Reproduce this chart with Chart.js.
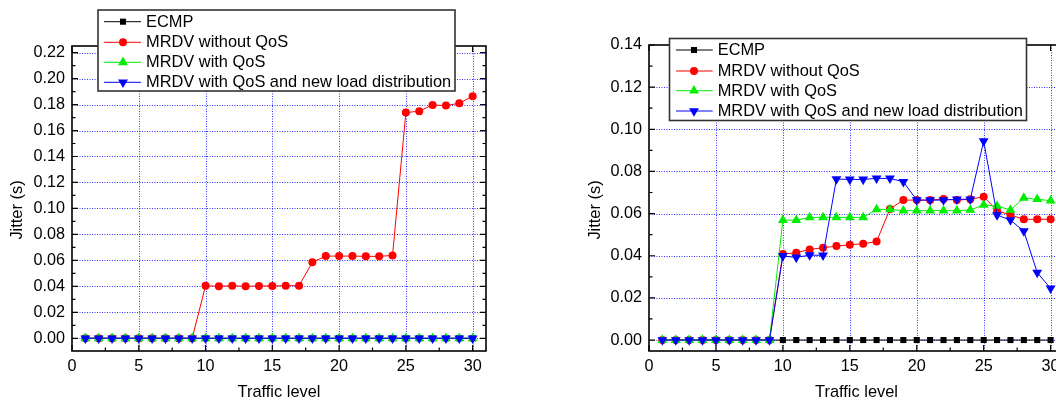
<!DOCTYPE html>
<html>
<head>
<meta charset="utf-8">
<script src="https://cdn.jsdelivr.net/npm/chart.js@4.4.0/dist/chart.umd.min.js"></script>
<style>
html,body{margin:0;padding:0;background:#fff;overflow:hidden;}
#wrap{position:relative;width:1056px;height:402px;overflow:hidden;background:#fff;}
#c1{position:absolute;left:0;top:0;}
#c2{position:absolute;left:528px;top:0;}
</style>
</head>
<body>
<div id="wrap">
<canvas id="c1" width="528" height="402"></canvas>
<canvas id="c2" width="550" height="402"></canvas>
</div>
<script>
// ---------------- data ----------------
const seriesNames = ['ECMP', 'MRDV without QoS', 'MRDV with QoS', 'MRDV with QoS and new load distribution'];
const traffic = [1,2,3,4,5,6,7,8,9,10,11,12,13,14,15,16,17,18,19,20,21,22,23,24,25,26,27,28,29,30];

// left chart
const leftEcmp    = [0,0,0,0,0,0,0,0,0,0,0,0,0,0,0,0,0,0,0,0,0,0,0,0,0,0,0,0,0,0];
const leftNoQos   = [0,0,0,0,0,0,0,0,0,0.0405,0.0400,0.0405,0.0400,0.0403,0.0403,0.0405,0.0405,0.0585,0.0633,0.0633,0.0633,0.0631,0.0631,0.0638,0.1738,0.1749,0.1797,0.1792,0.1810,0.1864];
const leftQos     = [0,0,0,0,0,0,0,0,0,0,0,0,0,0,0,0,0,0,0,0,0,0,0,0,0,0,0,0,0,0];
const leftQosLoad = [0,0,0,0,0,0,0,0,0,0,0,0,0,0,0,0,0,0,0,0,0,0,0,0,0,0,0,0,0,0];

// right chart
const rightEcmp    = [0,0,0,0,0,0,0,0,0,0,0,0,0,0,0,0,0,0,0,0,0,0,0,0,0,0,0,0,0,0];
const rightNoQos   = [0,0,0,0,0,0,0,0,0,0.0408,0.0414,0.0430,0.0438,0.0446,0.0452,0.0457,0.0467,0.0622,0.0664,0.0664,0.0664,0.0669,0.0664,0.0668,0.0680,0.0614,0.0593,0.0573,0.0573,0.0573];
const rightQos     = [0,0,0,0,0,0,0,0,0,0.0569,0.0569,0.0582,0.0582,0.0582,0.0582,0.0582,0.0620,0.0620,0.0614,0.0614,0.0614,0.0614,0.0614,0.0617,0.0641,0.0636,0.0617,0.0674,0.0668,0.0661];
const rightQosLoad = [0,0,0,0,0,0,0,0,0,0.0399,0.0392,0.0403,0.0402,0.0764,0.0762,0.0762,0.0767,0.0767,0.0751,0.0664,0.0664,0.0664,0.0668,0.0668,0.0944,0.0593,0.0569,0.0517,0.0320,0.0245];

// ticks
const xTicks = [0,5,10,15,20,25,30];
const xMinor = [2.5,7.5,12.5,17.5,22.5,27.5];
const leftYTicks = [0,0.02,0.04,0.06,0.08,0.10,0.12,0.14,0.16,0.18,0.20,0.22];
const leftYMinor = [0.01,0.03,0.05,0.07,0.09,0.11,0.13,0.15,0.17,0.19,0.21];
const rightYTicks = [0,0.02,0.04,0.06,0.08,0.10,0.12,0.14];
const rightYMinor = [0.01,0.03,0.05,0.07,0.09,0.11,0.13];

const xTitle = 'Traffic level';
const yTitle = 'Jitter (s)';

// ---------------- styles ----------------
const FONT = '"Liberation Sans", Arial, Helvetica, sans-serif';
Chart.defaults.font.family = FONT;
Chart.defaults.font.size = 16;
Chart.defaults.color = '#000';

const styles = [
  {color:'#000000', pointStyle:'rect', radius:4.3, rotation:0, order:4},
  {color:'#ff0000', pointStyle:'circle', radius:4.0, rotation:0, order:3},
  {color:'#00ee00', pointStyle:'triangle', radius:5.7, rotation:0, order:2},
  {color:'#0000ff', pointStyle:'triangle', radius:5.7, rotation:180, order:1}
];

function makeDatasets(arrs){
  return arrs.map((arr, i) => ({
    label: seriesNames[i],
    data: traffic.map((t, k) => ({x: t, y: arr[k]})),
    borderColor: styles[i].color,
    backgroundColor: styles[i].color,
    pointBackgroundColor: styles[i].color,
    pointBorderWidth: 0,
    borderWidth: 1,
    pointStyle: styles[i].pointStyle,
    pointRadius: styles[i].radius,
    pointRotation: styles[i].rotation,
    order: styles[i].order,
    tension: 0,
    clip: 8
  }));
}

const framePlugin = {
  id: 'frame',
  beforeDatasetsDraw(chart, args, o){
    const {ctx, chartArea:a, scales:{x, y}} = chart;
    ctx.save();
    ctx.strokeStyle = 'rgba(0,0,255,0.8)';
    ctx.lineWidth = 1;
    ctx.setLineDash([1,1.5]);
    ctx.beginPath();
    x.ticks.forEach(t => {
      const p = Math.round(x.getPixelForValue(t.value)) + 0.5;
      if (p > a.left + 2 && p < a.right - 2){ ctx.moveTo(p, a.top); ctx.lineTo(p, a.bottom); }
    });
    y.ticks.forEach(t => {
      const p = Math.round(y.getPixelForValue(t.value)) + 0.5;
      if (p > a.top + 2 && p < a.bottom - 2){ ctx.moveTo(a.left, p); ctx.lineTo(a.right, p); }
    });
    ctx.stroke();
    ctx.restore();
  },
  afterDatasetsDraw(chart, args, o){
    const {ctx, chartArea:a, scales:{x, y}} = chart;
    ctx.save();
    ctx.setLineDash([]);
    ctx.strokeStyle = '#000';
    ctx.lineWidth = 1.6;
    ctx.strokeRect(a.left, a.top, a.right - a.left, a.bottom - a.top);
    ctx.lineWidth = 1.2;
    ctx.beginPath();
    const tv = (p, len) => { ctx.moveTo(p, a.bottom); ctx.lineTo(p, a.bottom - len); ctx.moveTo(p, a.top); ctx.lineTo(p, a.top + len); };
    const th = (p, len) => { ctx.moveTo(a.left, p); ctx.lineTo(a.left + len, p); ctx.moveTo(a.right, p); ctx.lineTo(a.right - len, p); };
    x.ticks.forEach(t => tv(x.getPixelForValue(t.value), 6));
    o.minorX.forEach(v => tv(x.getPixelForValue(v), 3.5));
    y.ticks.forEach(t => th(y.getPixelForValue(t.value), 6));
    o.minorY.forEach(v => th(y.getPixelForValue(v), 3.5));
    ctx.stroke();
    // y axis title
    ctx.save();
    ctx.translate(o.yTitleX, o.yTitleY);
    ctx.rotate(-Math.PI / 2);
    ctx.fillStyle = '#000';
    ctx.font = '16.4px ' + FONT;
    ctx.textAlign = 'center';
    ctx.textBaseline = 'middle';
    ctx.fillText(yTitle, 0, 0);
    ctx.restore();
    ctx.restore();
  },
  afterDraw(chart, args, o){
    const L = o.legend;
    const ctx = chart.ctx;
    ctx.save();
    ctx.fillStyle = '#fff';
    ctx.fillRect(L.x, L.y, L.w, L.h);
    ctx.strokeStyle = '#333';
    ctx.lineWidth = 1.6;
    ctx.strokeRect(L.x, L.y, L.w, L.h);
    chart.data.datasets.forEach((ds, i) => {
      const cy = L.rows[i];
      ctx.strokeStyle = ds.borderColor;
      ctx.lineWidth = 1;
      ctx.beginPath();
      ctx.moveTo(L.lx0, cy); ctx.lineTo(L.lx1, cy);
      ctx.stroke();
      ctx.fillStyle = ds.pointBackgroundColor;
      Chart.helpers.drawPoint(ctx, {pointStyle: ds.pointStyle, rotation: ds.pointRotation, radius: ds.pointRadius, borderWidth: 0}, L.mx, cy);
      ctx.fillStyle = '#000';
      ctx.font = '16.4px ' + FONT;
      ctx.textAlign = 'left';
      ctx.textBaseline = 'middle';
      ctx.fillText(ds.label, L.tx, cy + 0.5);
    });
    ctx.restore();
  }
};

function makeChart(id, arrs, cfg){
  return new Chart(document.getElementById(id), {
    type: 'line',
    data: {datasets: makeDatasets(arrs)},
    options: {
      responsive: false,
      animation: false,
      events: [],
      layout: {padding: cfg.padding},
      plugins: {
        legend: {display: false},
        tooltip: {enabled: false},
        frame: {minorX: xMinor, minorY: cfg.minorY, legend: cfg.legend, yTitleX: cfg.yTitleX, yTitleY: 210}
      },
      scales: {
        x: {
          type: 'linear', min: 0, max: 31,
          afterBuildTicks: s => { s.ticks = xTicks.map(v => ({value: v})); },
          afterFit: s => { s.height = 51; },
          grid: {display: false, drawTicks: false},
          border: {display: false},
          ticks: {padding: 6, maxRotation: 0, autoSkip: false, color: '#000', font: {size: 16.2}},
          title: {display: true, text: xTitle, color: '#000', font: {size: 16.4}, padding: {top: 0, bottom: 0}}
        },
        y: {
          type: 'linear', min: cfg.yMin, max: cfg.yMax,
          afterBuildTicks: s => { s.ticks = cfg.yTicks.map(v => ({value: v})); },
          afterFit: s => { s.width = cfg.yWidth; },
          grid: {display: false, drawTicks: false},
          border: {display: false},
          ticks: {padding: 7, autoSkip: false, color: '#000', font: {size: 16.2}, callback: v => Number(v).toFixed(2)},
          title: {display: false}
        }
      }
    },
    plugins: [framePlugin]
  });
}

makeChart('c1', [leftEcmp, leftNoQos, leftQos, leftQosLoad], {
  padding: {left: 0, top: 46, right: 42, bottom: 0},
  yMin: -0.0098, yMax: 0.2251, yTicks: leftYTicks, minorY: leftYMinor, yWidth: 72, yTitleX: 17,
  legend: {x: 98, y: 10, w: 357, h: 81, rows: [21.7, 42.3, 62.3, 82.3], lx0: 104, lx1: 141, mx: 123, tx: 146}
});

makeChart('c2', [rightEcmp, rightNoQos, rightQos, rightQosLoad], {
  padding: {left: 50, top: 45, right: 14, bottom: 0},
  yMin: -0.0052, yMax: 0.14, yTicks: rightYTicks, minorY: rightYMinor, yWidth: 71, yTitleX: 595 - 528,
  legend: {x: 141.5, y: 38.5, w: 357, h: 82, rows: [50, 71, 90.7, 111], lx0: 148, lx1: 184.7, mx: 166, tx: 189.7}
});
</script>
</body>
</html>
